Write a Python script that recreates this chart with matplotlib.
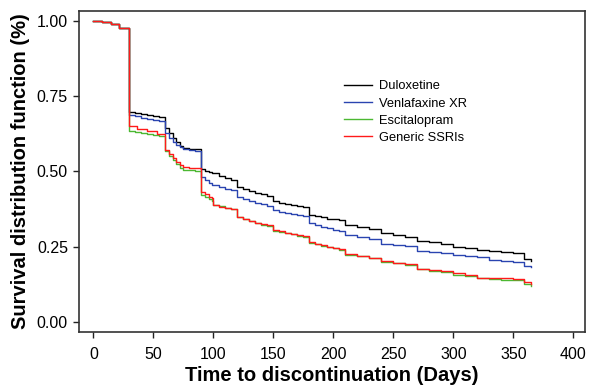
import matplotlib
matplotlib.use("Agg")
import matplotlib.pyplot as plt

plt.rcParams['font.family'] = ['Liberation Sans', 'DejaVu Sans']

# Kaplan-Meier style curves (days, survival)
dulox_days = [0, 7, 15, 21, 30, 35, 40, 45, 50, 55, 60, 63, 66, 69, 72, 75, 80, 85,
              90, 93, 96, 99, 105, 110, 115, 120, 125, 130, 135, 140, 145, 150, 155, 160,
              165, 170, 175, 180, 185, 190, 195, 200, 205, 210, 220, 230, 240, 250, 260,
              270, 280, 290, 300, 310, 320, 330, 340, 350, 359, 365]
dulox_surv = [1.0, 0.997, 0.99, 0.977, 0.698, 0.694, 0.69, 0.687, 0.685, 0.682, 0.645, 0.627,
              0.612, 0.598, 0.585, 0.577, 0.576, 0.575,
              0.508, 0.503, 0.498, 0.494, 0.484, 0.478, 0.472, 0.45, 0.443, 0.436, 0.43, 0.424,
              0.419, 0.402, 0.396, 0.392, 0.388, 0.385, 0.381, 0.357, 0.352, 0.348, 0.344,
              0.341, 0.338, 0.323, 0.316, 0.31, 0.295, 0.289, 0.284, 0.27, 0.265, 0.259, 0.25,
              0.245, 0.24, 0.236, 0.232, 0.229, 0.209, 0.204]

venla_days = [0, 7, 15, 21, 30, 35, 40, 45, 50, 55, 60, 63, 66, 69, 72, 75, 80, 85,
              90, 93, 96, 99, 105, 110, 115, 120, 125, 130, 135, 140, 145, 150, 155, 160,
              165, 170, 175, 180, 185, 190, 195, 200, 205, 210, 220, 230, 240, 250, 260,
              270, 280, 290, 300, 310, 320, 330, 340, 350, 359, 365]
venla_surv = [1.0, 0.997, 0.99, 0.977, 0.688, 0.683, 0.678, 0.675, 0.67, 0.667, 0.628, 0.612,
              0.599, 0.588, 0.58, 0.575, 0.572, 0.569,
              0.481, 0.472, 0.463, 0.455, 0.447, 0.441, 0.437, 0.416, 0.408, 0.401, 0.396,
              0.391, 0.387, 0.372, 0.366, 0.361, 0.358, 0.355, 0.352, 0.328, 0.322, 0.316,
              0.311, 0.306, 0.302, 0.289, 0.282, 0.275, 0.259, 0.256, 0.253, 0.237, 0.232,
              0.228, 0.223, 0.219, 0.215, 0.206, 0.204, 0.201, 0.187, 0.182]

escit_days = [0, 7, 15, 21, 30, 35, 40, 45, 50, 55, 60, 63, 66, 69, 72, 75, 80, 85,
              90, 93, 96, 99, 100, 105, 110, 115, 120, 125, 130, 135, 140, 145, 150, 155,
              160, 165, 170, 175, 180, 185, 190, 195, 200, 205, 210, 220, 230, 240, 250,
              260, 270, 280, 290, 300, 310, 320, 330, 340, 350, 359, 365]
escit_surv = [1.0, 0.997, 0.99, 0.977, 0.635, 0.63, 0.627, 0.623, 0.621, 0.619, 0.568, 0.552,
              0.538, 0.524, 0.513, 0.505, 0.504, 0.503,
              0.422, 0.415, 0.408, 0.403, 0.39, 0.385, 0.38, 0.376, 0.348, 0.341, 0.335,
              0.329, 0.324, 0.32, 0.304, 0.299, 0.295, 0.291, 0.287, 0.284, 0.263, 0.258,
              0.253, 0.249, 0.245, 0.241, 0.224, 0.218, 0.212, 0.201, 0.195, 0.19, 0.176,
              0.171, 0.165, 0.158, 0.152, 0.146, 0.142, 0.141, 0.14, 0.126, 0.12]

ssri_days = [0, 7, 15, 21, 30, 36, 45, 50, 53, 60, 63, 66, 69, 72, 75, 80, 85,
             90, 93, 96, 99, 100, 105, 110, 115, 120, 125, 130, 135, 140, 145, 150, 155,
             160, 165, 170, 175, 180, 185, 190, 195, 200, 205, 210, 220, 230, 240, 250,
             260, 270, 280, 290, 300, 310, 320, 330, 340, 350, 359, 365]
ssri_surv = [1.0, 0.997, 0.99, 0.977, 0.651, 0.642, 0.636, 0.633, 0.626, 0.571, 0.557, 0.545,
             0.533, 0.522, 0.514, 0.513, 0.512,
             0.431, 0.424, 0.417, 0.411, 0.388, 0.383, 0.378, 0.374, 0.35, 0.343, 0.336,
             0.33, 0.325, 0.321, 0.306, 0.301, 0.297, 0.293, 0.289, 0.286, 0.265, 0.26,
             0.255, 0.25, 0.246, 0.242, 0.226, 0.219, 0.214, 0.203, 0.197, 0.192, 0.178,
             0.174, 0.17, 0.162, 0.158, 0.148, 0.146, 0.145, 0.144, 0.134, 0.128]

fig = plt.figure(figsize=(5.9, 3.88), dpi=100)
ax = fig.add_axes([0.134, 0.144, 0.858, 0.828])

ax.plot(dulox_days, dulox_surv, drawstyle='steps-post', color='black', lw=1, label='Duloxetine')
ax.plot(venla_days, venla_surv, drawstyle='steps-post', color='#2a44b0', lw=1, label='Venlafaxine XR')
ax.plot(escit_days, escit_surv, drawstyle='steps-post', color='#4cb832', lw=1, label='Escitalopram')
ax.plot(ssri_days, ssri_surv, drawstyle='steps-post', color='#ff1a1a', lw=1, label='Generic SSRIs')

ax.set_xlim(-12, 410)
ax.set_ylim(-0.033, 1.033)
ax.set_xticks(range(0, 401, 50))
ax.set_yticks([0, 0.25, 0.5, 0.75, 1.0])
ax.set_yticklabels(['0.00', '0.25', '0.50', '0.75', '1.00'])
ax.tick_params(labelsize=11.5, length=4.5, width=1, colors='#222222', labelcolor='black')
ax.tick_params(axis='x', pad=6)
for s in ax.spines.values():
    s.set_color('#333333')
    s.set_linewidth(1.2)

ax.set_xlabel('Time to discontinuation (Days)', fontsize=14.5, fontweight='bold', labelpad=3)
ax.set_ylabel('Survival distribution function (%)', fontsize=14.5, fontweight='bold', labelpad=5)

ax.legend(loc='upper left', bbox_to_anchor=(0.5, 0.82), frameon=False, fontsize=9.3,
          handlelength=2.2, handletextpad=0.5, labelspacing=0.4)

fig.savefig('out.png', dpi=100)
